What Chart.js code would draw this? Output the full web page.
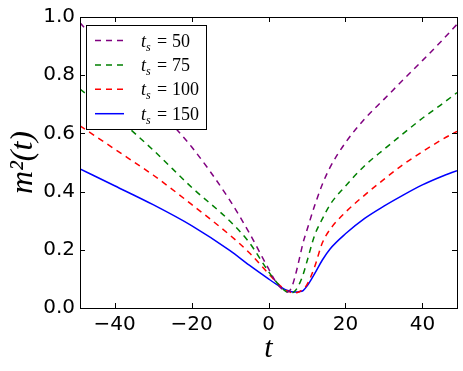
<!DOCTYPE html>
<html>
<head>
<meta charset="utf-8">
<script src="https://cdn.jsdelivr.net/npm/chart.js@4"></script>
<style>
  body { margin: 0; background: #fff; }
</style>
</head>
<body>
<canvas id="chart" width="463" height="371"></canvas>
<script>
// sample times t
const tValues = [-49, -40, -30, -20, -10, -5, 0, 2, 4, 5, 6, 7, 8, 9, 10, 12, 14, 16, 20, 25, 30, 35, 40, 45, 49];

// m^2(t) for each t_s
const m2Ts50  = [0.98, 0.848, 0.701, 0.554, 0.369, 0.258, 0.135, 0.088, 0.06, 0.055, 0.07, 0.113, 0.168, 0.225, 0.268, 0.352, 0.425, 0.483, 0.568, 0.65, 0.717, 0.784, 0.85, 0.918, 0.975];
const m2Ts75  = [0.752, 0.66, 0.543, 0.415, 0.298, 0.225, 0.125, 0.09, 0.062, 0.054, 0.052, 0.06, 0.082, 0.115, 0.16, 0.25, 0.306, 0.355, 0.419, 0.489, 0.545, 0.599, 0.652, 0.7, 0.74];
const m2Ts100 = [0.626, 0.546, 0.457, 0.356, 0.25, 0.19, 0.118, 0.09, 0.066, 0.058, 0.053, 0.052, 0.056, 0.065, 0.08, 0.142, 0.224, 0.27, 0.329, 0.388, 0.442, 0.493, 0.537, 0.578, 0.607];
const m2Ts150 = [0.478, 0.42, 0.355, 0.283, 0.197, 0.147, 0.1, 0.082, 0.066, 0.06, 0.056, 0.055, 0.056, 0.06, 0.075, 0.118, 0.165, 0.203, 0.255, 0.308, 0.35, 0.388, 0.423, 0.452, 0.472];

const seriesLabels = ["50", "75", "100", "150"];
const seriesColors = ["purple", "green", "red", "blue"];
const seriesDashed = [true, true, true, false];

const xTicks = [-40, -20, 0, 20, 40];
const yTicks = [0, 0.2, 0.4, 0.6, 0.8, 1.0];

const allSeries = [m2Ts50, m2Ts75, m2Ts100, m2Ts150];

const datasets = allSeries.map((vals, i) => ({
    label: "ts=" + seriesLabels[i],
    data: vals.map((v, j) => ({ x: tValues[j], y: v })),
    borderColor: seriesColors[i],
    borderWidth: 1.5,
    borderDash: seriesDashed[i] ? [6, 5] : [],
    pointRadius: 0,
    fill: false,
    cubicInterpolationMode: "monotone"
}));

// inward ticks on all four sides + full box
const frameTicks = {
    id: "frameTicks",
    afterDraw(chart) {
        const { ctx, chartArea: a, scales } = chart;
        const len = 5;
        ctx.save();
        ctx.strokeStyle = "#000";
        ctx.lineWidth = 1;
        ctx.beginPath();
        scales.x.ticks.forEach((t) => {
            const px = Math.round(scales.x.getPixelForValue(t.value)) + 0.5;
            ctx.moveTo(px, a.bottom); ctx.lineTo(px, a.bottom - len);
            ctx.moveTo(px, a.top); ctx.lineTo(px, a.top + len);
        });
        scales.y.ticks.forEach((t) => {
            const py = Math.round(scales.y.getPixelForValue(t.value)) + 0.5;
            ctx.moveTo(a.left, py); ctx.lineTo(a.left + len, py);
            ctx.moveTo(a.right, py); ctx.lineTo(a.right - len, py);
        });
        ctx.stroke();
        ctx.strokeRect(Math.round(a.left) + 0.5, Math.round(a.top) + 0.5,
            Math.round(a.right - a.left), Math.round(a.bottom - a.top));
        ctx.restore();
    }
};

// legend box in the upper left of the plot
const insideLegend = {
    id: "insideLegend",
    afterDraw(chart) {
        const { ctx, chartArea: a } = chart;
        const x0 = a.left + 6, y0 = a.top + 8;
        const w = 120, h = 104;
        ctx.save();
        ctx.fillStyle = "#fff";
        ctx.fillRect(x0, y0, w, h);
        ctx.strokeStyle = "#000";
        ctx.lineWidth = 1;
        ctx.strokeRect(Math.round(x0) + 0.5, Math.round(y0) + 0.5, w, h);
        chart.data.datasets.forEach((ds, i) => {
            const cy = y0 + 15.5 + i * 24.4;
            ctx.strokeStyle = ds.borderColor;
            ctx.lineWidth = 1.5;
            ctx.setLineDash(ds.borderDash);
            ctx.beginPath();
            ctx.moveTo(x0 + 9, cy);
            ctx.lineTo(x0 + 38, cy);
            ctx.stroke();
            ctx.setLineDash([]);

            ctx.fillStyle = "#000";
            ctx.textBaseline = "alphabetic";
            const base = cy + 6;
            let tx = x0 + 55;
            ctx.font = "italic 18px 'Liberation Serif'";
            ctx.fillText("t", tx, base);
            tx += ctx.measureText("t").width;
            ctx.font = "italic 12px 'Liberation Serif'";
            ctx.fillText("s", tx, base + 4);
            ctx.font = "18px 'Liberation Serif'";
            ctx.fillText("=", x0 + 71, base);
            ctx.fillText(seriesLabels[i], x0 + 86, base);
        });
        ctx.restore();
    }
};

const context = document.getElementById("chart").getContext("2d");
new Chart(context, {
    type: "line",
    data: { datasets: datasets },
    options: {
        responsive: false,
        animation: false,
        devicePixelRatio: 1,
        layout: { padding: { top: 16, right: 6, left: 0, bottom: 0 } },
        plugins: {
            legend: { display: false },
            tooltip: { enabled: false }
        },
        scales: {
            x: {
                type: "linear",
                min: -49,
                max: 49,
                afterBuildTicks: (s) => { s.ticks = xTicks.map((v) => ({ value: v })); },
                afterFit: (s) => { s.height = 63; },
                grid: { drawOnChartArea: false, drawTicks: false },
                border: { display: false },
                ticks: {
                    padding: 5,
                    color: "#000",
                    font: { family: "'DejaVu Sans'", size: 20 },
                    callback: (v) => String(v).replace("-", "\u2212")
                },
                title: {
                    display: true,
                    text: "t",
                    color: "#000",
                    font: { family: "'Liberation Serif'", style: "italic", size: 30 },
                    padding: { top: 0, bottom: 4 }
                }
            },
            y: {
                type: "linear",
                min: 0,
                max: 1.0,
                afterBuildTicks: (s) => { s.ticks = yTicks.map((v) => ({ value: v })); },
                afterFit: (s) => { s.width = 80; },
                grid: { drawOnChartArea: false, drawTicks: false },
                border: { display: false },
                ticks: {
                    padding: 5,
                    color: "#000",
                    font: { family: "'DejaVu Sans'", size: 20 },
                    callback: (v) => Number(v).toFixed(1)
                },
                title: {
                    display: true,
                    text: "m\u00b2(t)",
                    color: "#000",
                    font: { family: "'Liberation Serif'", style: "italic", size: 32 },
                    padding: { top: 4, bottom: 0 }
                }
            }
        }
    },
    plugins: [frameTicks, insideLegend]
});
</script>
</body>
</html>
